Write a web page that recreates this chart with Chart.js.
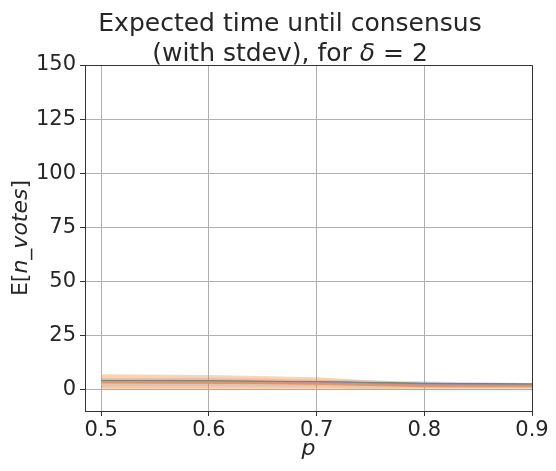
<!DOCTYPE html>
<html>
<head>
<meta charset="utf-8">
<script src="https://cdn.jsdelivr.net/npm/chart.js@4/dist/chart.umd.min.js"></script>
<style>
  html, body { margin: 0; padding: 0; background: #fff; }
  #wrap { width: 556px; height: 471px; }
</style>
</head>
<body>
<div id="wrap"><canvas id="chart" width="556" height="471"></canvas></div>
<script>
  // p values on the x axis
  const pValues = [0.5, 0.6, 0.7, 0.8, 0.9];
  const xTicks = [0.5, 0.6, 0.7, 0.8, 0.9];
  const yTicks = [0, 25, 50, 75, 100, 125, 150];

  // mean E[n_votes] per series
  const meanBlue = [3.6, 3.6, 3.3, 2.4, 1.9];
  const meanOrange = [3.4, 3.2, 2.6, 1.4, 1.4];
  const meanGreen = [3.5, 3.5, 3.3, 2.5, 2.1];
  const meanPink = [3.3, 3.2, 2.8, 1.9, 1.7];
  const meanGray = [3.9, 3.7, 3.3, 2.6, 2.2];

  // stdev bands (mean +- stdev)
  const orangeUpper = [7.0, 6.6, 5.6, 2.8, 2.6];
  const orangeLower = [-0.3, -0.2, 0.0, 0.3, 0.3];
  const blueUpper = [5.4, 5.2, 4.6, 3.6, 2.9];
  const blueLower = [1.2, 1.2, 1.0, -1.0, -1.0];
  const pinkUpper = [5.0, 5.6, 4.4, 3.7, 3.0];
  const pinkLower = [0.6, 0.8, 1.0, 1.0, 0.9];
  const grayUpper = [5.0, 4.7, 4.2, 3.5, 2.8];
  const grayLower = [2.6, 2.5, 2.3, 1.8, 1.5];

  const textColor = "#262626";

  function pts(arr) {
    return arr.map((v, i) => ({ x: pValues[i], y: v }));
  }

  function band(upper, lower, color) {
    return [
      { data: pts(upper), borderWidth: 0, pointRadius: 0, fill: "+1", backgroundColor: color, tension: 0 },
      { data: pts(lower), borderWidth: 0, pointRadius: 0, fill: false, backgroundColor: color, tension: 0 }
    ];
  }

  function line(arr, color) {
    return { data: pts(arr), borderColor: color, borderWidth: 2, pointRadius: 0, fill: false, tension: 0 };
  }

  const datasets = [
    ...band(blueUpper, blueLower, "rgba(23,190,207,0.10)"),
    ...band(pinkUpper, pinkLower, "rgba(227,119,194,0.15)"),
    ...band(orangeUpper, orangeLower, "rgba(255,140,40,0.38)"),
    ...band(grayUpper, grayLower, "rgba(127,127,127,0.12)"),
    line(meanOrange, "#ffa55a"),
    line(meanPink, "#e58ac8"),
    line(meanBlue, "#1f77b4"),
    line(meanGreen, "#2ca02c"),
    line(meanGray, "#4a525c")
  ];

  // white background, top/right spines, titles with math italics
  const decor = {
    id: "decor",
    beforeDraw(chart) {
      const c = chart.ctx;
      c.save();
      c.fillStyle = "#fff";
      c.fillRect(0, 0, chart.width, chart.height);
      c.restore();
    },
    afterDraw(chart) {
      const c = chart.ctx;
      const a = chart.chartArea;
      c.save();
      c.strokeStyle = "#333";
      c.lineWidth = 1;
      c.beginPath();
      c.moveTo(a.left, a.top + 0.5);
      c.lineTo(a.right + 0.5, a.top + 0.5);
      c.lineTo(a.right + 0.5, a.bottom);
      c.stroke();

      c.fillStyle = textColor;
      c.textBaseline = "alphabetic";
      const cx = 290;
      c.font = "25px 'DejaVu Sans'";
      c.textAlign = "center";
      c.fillText("Expected time until consensus", cx, 31);
      drawParts(c, [
        ["(with stdev), for ", "25px 'DejaVu Sans'"],
        ["δ", "italic 25px 'DejaVu Sans'"],
        [" = 2", "25px 'DejaVu Sans'"]
      ], cx, 61);

      // x label
      c.font = "italic 22px 'DejaVu Sans'";
      c.textAlign = "center";
      c.fillText("p", (a.left + a.right) / 2, 455);

      // y label
      c.translate(27, (a.top + a.bottom) / 2);
      c.rotate(-Math.PI / 2);
      drawParts(c, [
        ["E[", "22px 'DejaVu Sans'"],
        ["n_votes", "italic 22px 'DejaVu Sans'"],
        ["]", "22px 'DejaVu Sans'"]
      ], 0, 0);
      c.restore();
    }
  };

  function drawParts(c, parts, cx, y) {
    let total = 0;
    parts.forEach(([t, f]) => { c.font = f; total += c.measureText(t).width; });
    let x = cx - total / 2;
    c.textAlign = "left";
    parts.forEach(([t, f]) => {
      c.font = f;
      c.fillText(t, x, y);
      x += c.measureText(t).width;
    });
  }

  new Chart(document.getElementById("chart").getContext("2d"), {
    type: "line",
    data: { datasets },
    options: {
      responsive: false,
      animation: false,
      layout: { padding: { top: 65, right: 24, left: 0, bottom: 0 } },
      plugins: {
        legend: { display: false },
        title: { display: false },
        tooltip: { enabled: false }
      },
      scales: {
        x: {
          type: "linear",
          min: 0.485,
          max: 0.9,
          afterBuildTicks: s => { s.ticks = xTicks.map(v => ({ value: v })); },
          afterFit: s => { s.height = 60; },
          grid: { color: "#b0b0b0", lineWidth: 1, tickColor: "#333", tickLength: 5 },
          border: { display: true, color: "#333", width: 1 },
          ticks: {
            color: textColor,
            font: { family: "DejaVu Sans", size: 21 },
            padding: 2,
            maxRotation: 0,
            callback: v => v.toFixed(1)
          }
        },
        y: {
          type: "linear",
          min: -10,
          max: 150,
          afterBuildTicks: s => { s.ticks = yTicks.map(v => ({ value: v })); },
          afterFit: s => { s.width = 85; },
          grid: { color: "#b0b0b0", lineWidth: 1, tickColor: "#333", tickLength: 5 },
          border: { display: true, color: "#333", width: 1 },
          ticks: {
            color: textColor,
            font: { family: "DejaVu Sans", size: 21 },
            padding: 4,
            callback: v => String(v)
          }
        }
      }
    },
    plugins: [decor]
  });
</script>
</body>
</html>
